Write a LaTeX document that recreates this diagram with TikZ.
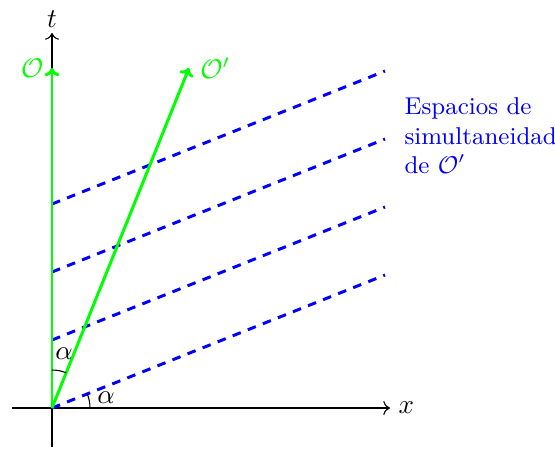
\documentclass[tikz,border=0pt]{standalone}
\usetikzlibrary{arrows.meta}
\begin{document}
\begin{tikzpicture}[x=0.37pt,y=-0.37pt,
  axis/.style={->,line width=0.4pt},
  world/.style={green,line width=1.1pt,-{To[length=3pt,width=5.5pt]}},
  simul/.style={blue,line width=1.1pt,dash pattern=on 3.2pt off 2.8pt},
  anglearc/.style={line width=0.4pt}]
\useasboundingbox (0,0) rectangle (555,449);
\coordinate (O) at (52,408);
\coordinate (xs) at (12,408);
\coordinate (xe) at (390,408);
\coordinate (ts) at (52,447);
\coordinate (te) at (52,33);
\draw[axis] (xs) -- (xe) node[right,inner sep=3pt] (xl) {$x$};
\draw[axis] (ts) -- (te) node[above,inner sep=2pt] (tl) {$t$};
\foreach \k in {0,1,2,3}{
  \coordinate (d\k a) at (52,408-68*\k);
  \coordinate (d\k b) at (385,275-68*\k);
  \draw[simul] (d\k a) -- (d\k b);
}
\coordinate (Oend) at (52,68);
\coordinate (Opend) at (189,68);
\draw[world] (O) -- (Oend);
\draw[world] (O) -- (Opend);
\node[green,left,inner sep=3pt] (Olab) at (Oend) {$\mathcal{O}$};
\node[green,right,inner sep=4pt] (Oplab) at (Opend) {$\mathcal{O}'$};
\draw[anglearc] (52,370) arc[start angle=-90,end angle=-68.05,radius=38];
\node (a1) at (64,354) {$\alpha$};
\draw[anglearc] (90,408) arc[start angle=0,end angle=-21.95,radius=38];
\node (a2) at (106,398) {$\alpha$};
\node[blue,anchor=north west,align=left,inner sep=0pt,font=\small] (lab) at (404,97)
  {Espacios de\\simultaneidad\\de $\mathcal{O}'$};
\end{tikzpicture}
\end{document}
